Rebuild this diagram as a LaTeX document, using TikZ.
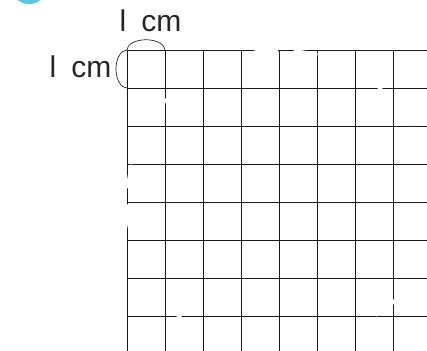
\documentclass[tikz,border=0pt]{standalone}
\usepackage{fontspec}
\setmainfont{Liberation Sans}
\usepackage{tikz}
\newcommand{\squareGrid}{%%
  %% The vertical lines.
  \foreach \i in {0,...,7} {
    \draw[gridStyle] (\i,0) -- (\i,\ylow);
  }
  %% The horizontal lines.
  \foreach \j in {0,...,7} {
    \draw[gridStyle] (0,-\j) -- (\xhigh,-\j);
  }
}
\newcommand{\hiddenCircle}{%%
  %% A circle in white, seen only as gaps in the grid.
  \draw[hiddenStyle] (centre) circle [radius=\radius];
}
\newcommand{\unitMarks}{%%
  %% The arc above the first square.
  \draw[arcStyle] (corner) arc [start angle=180,end angle=0,x radius=0.5,y radius=0.27];
  \node[labelStyle] (topLabel) at (-0.2,0.474) {l\enspace cm};
  %% The arc left of the first square.
  \draw[arcStyle] (corner) arc [start angle=90,end angle=270,x radius=0.29,y radius=0.5];
  \node[labelStyle] (leftLabel) at (-2.04,-0.711) {l\enspace cm};
}

\begin{document}
\begin{tikzpicture}[%%
  x=38pt,y=38pt,%%
  gridStyle/.style={-,line width=0.8pt,black!90},%%
  hiddenStyle/.style={white,line width=3pt,dash pattern=on 24pt off 16pt},%%
  arcStyle/.style={-,line width=0.7pt,black!85},%%
  labelStyle/.style={anchor=base west,inner sep=0pt,font=\fontsize{30}{30}\selectfont,black!85},%%
  badgeStyle/.style={fill={rgb,255:red,91;green,197;blue,220},draw=none}%%
]
%%
%%
\pgfmathsetmacro{\radius}{4}
\pgfmathsetmacro{\xlow}{-3.342}
\pgfmathsetmacro{\xhigh}{7.895}
\pgfmathsetmacro{\yhigh}{1.316}
\pgfmathsetmacro{\ylow}{-7.921}
\useasboundingbox (\xlow,\ylow) rectangle (\xhigh,\yhigh);
%% The grid corner and the circle centre.
\coordinate (corner) at (0,0);
\coordinate (centre) at (4,-4);
%% The badge at the top.
\fill[badgeStyle] (-2.579,1.684) circle [radius=0.474];
%%
%%
\squareGrid
\hiddenCircle
\unitMarks
\end{tikzpicture}
\end{document}
